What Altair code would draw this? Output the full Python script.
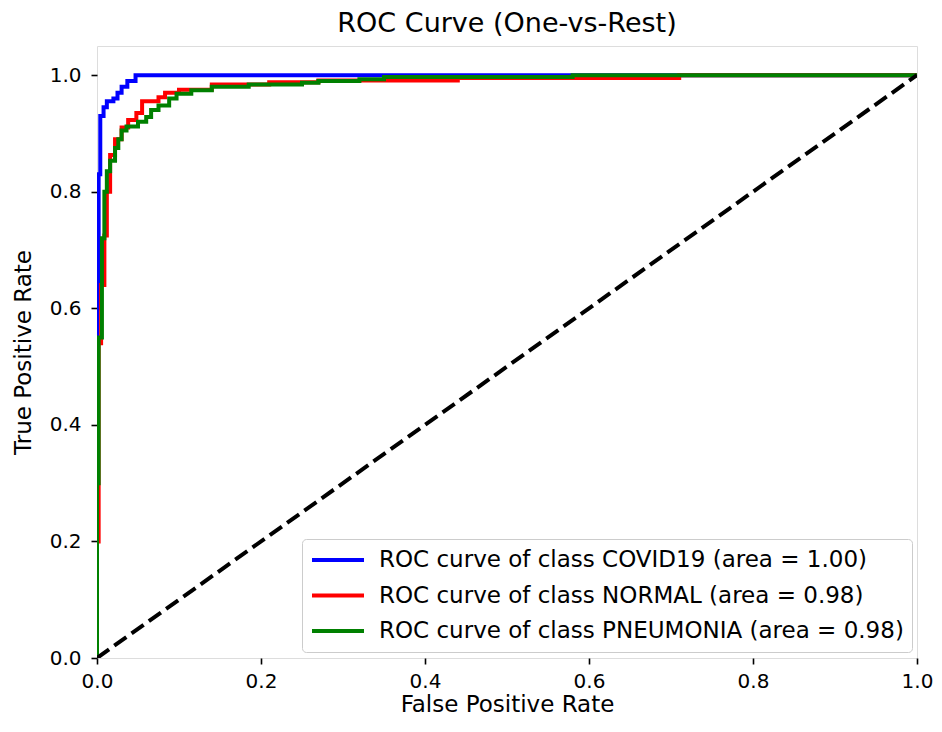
import altair as alt
import pandas as pd

classes = ["COVID19", "NORMAL", "PNEUMONIA"]
areas = ["1.00", "0.98", "0.98"]
colors = ["#0000ff", "#ff0000", "#008000"]

covid_fpr = [0, 0, 0.002, 0.002, 0.004, 0.004, 0.008, 0.008, 0.012, 0.012, 0.02, 0.02,
             0.025, 0.025, 0.03, 0.03, 0.037, 0.037, 0.047, 0.047, 1.0]
covid_tpr = [0, 0.6, 0.6, 0.83, 0.83, 0.93, 0.93, 0.945, 0.945, 0.955, 0.955, 0.96,
             0.96, 0.97, 0.97, 0.98, 0.98, 0.99, 0.99, 1.0, 1.0]

normal_fpr = [0, 0, 0.002, 0.002, 0.005, 0.005, 0.009, 0.009, 0.012, 0.012, 0.016, 0.016,
              0.022, 0.022, 0.03, 0.03, 0.038, 0.038, 0.048, 0.048, 0.055, 0.055,
              0.075, 0.075, 0.083, 0.083, 0.1, 0.1, 0.14, 0.14, 0.21, 0.21, 0.27, 0.27,
              0.44, 0.44, 0.71, 0.71, 1.0]
normal_tpr = [0, 0.2, 0.2, 0.54, 0.54, 0.64, 0.64, 0.725, 0.725, 0.8, 0.8, 0.863,
              0.863, 0.89, 0.89, 0.91, 0.91, 0.923, 0.923, 0.935, 0.935, 0.955,
              0.955, 0.962, 0.962, 0.97, 0.97, 0.975, 0.975, 0.984, 0.984, 0.988, 0.988, 0.991,
              0.991, 0.995, 0.995, 1.0, 1.0]

pneu_fpr = [0, 0, 0.002, 0.002, 0.006, 0.006, 0.009, 0.009, 0.012, 0.012, 0.016, 0.016,
            0.022, 0.022, 0.026, 0.026, 0.03, 0.03, 0.036, 0.036, 0.05, 0.05, 0.06, 0.06,
            0.066, 0.066, 0.075, 0.075, 0.088, 0.088, 0.097, 0.097, 0.115, 0.115,
            0.14, 0.14, 0.185, 0.185, 0.25, 0.25, 0.27, 0.27, 0.32, 0.32, 0.35, 0.35,
            0.58, 0.58, 1.0]
pneu_tpr = [0, 0.3, 0.3, 0.55, 0.55, 0.72, 0.72, 0.8, 0.8, 0.835, 0.835, 0.853,
            0.853, 0.875, 0.875, 0.89, 0.89, 0.905, 0.905, 0.912, 0.912, 0.92, 0.92, 0.928,
            0.928, 0.94, 0.94, 0.948, 0.948, 0.96, 0.96, 0.968, 0.968, 0.974,
            0.974, 0.98, 0.98, 0.984, 0.984, 0.987, 0.987, 0.99, 0.99, 0.993, 0.993, 0.997,
            0.997, 1.0, 1.0]

diag_x = [0, 1]
diag_y = [0, 1]

tick_values = [0, 0.2, 0.4, 0.6, 0.8, 1.0]

labels = [f"ROC curve of class {c} (area = {a})" for c, a in zip(classes, areas)]

rows = []
for lab, fx, ty in zip(labels, [covid_fpr, normal_fpr, pneu_fpr], [covid_tpr, normal_tpr, pneu_tpr]):
    for i, (a, b) in enumerate(zip(fx, ty)):
        rows.append({"label": lab, "fpr": a, "tpr": b, "idx": i})
df = pd.DataFrame(rows)
ddf = pd.DataFrame({"x": diag_x, "y": diag_y})

FONT = "DejaVu Sans"
TICK_FS = 20
LAB_FS = 23

xscale = alt.Scale(domain=[0, 1], nice=False, zero=False)
yscale = alt.Scale(domain=[0, 1.05], nice=False, zero=False)

common_axis = dict(
    values=tick_values, format=".1f", grid=False, domain=False, ticks=True,
    tickSize=6, tickWidth=1.6, tickColor="black",
    labelFont=FONT, labelFontSize=TICK_FS, labelColor="black",
    titleFont=FONT, titleFontSize=LAB_FS, titleFontWeight="normal", titleColor="black",
    labelFlush=False,
)
xaxis = alt.Axis(title="False Positive Rate", labelPadding=7, titlePadding=2, **common_axis)
yaxis = alt.Axis(title="True Positive Rate", labelPadding=10, titlePadding=14, **common_axis)

legend = alt.Legend(title=None, orient="none", legendX=205, legendY=493,
                    symbolType="stroke", symbolSize=2704, symbolStrokeWidth=4,
                    labelFont=FONT, labelFontSize=LAB_FS, labelColor="black", labelLimit=900,
                    labelOffset=13, padding=8, rowPadding=9.5, clipHeight=26,
                    fillColor="white", strokeColor="#cccccc", cornerRadius=4)

curves = alt.Chart(df).mark_line(strokeWidth=4, clip=True, interpolate="linear").encode(
    x=alt.X("fpr:Q", scale=xscale, axis=xaxis),
    y=alt.Y("tpr:Q", scale=yscale, axis=yaxis),
    color=alt.Color("label:N", scale=alt.Scale(domain=labels, range=colors), legend=legend),
    order=alt.Order("idx:Q"),
)

diag = alt.Chart(ddf).mark_line(strokeWidth=4, color="black", strokeDash=[14.8, 6.4], clip=True).encode(
    x=alt.X("x:Q", scale=xscale),
    y=alt.Y("y:Q", scale=yscale),
)

chart = alt.layer(curves, diag).properties(
    width=820, height=612,
    title=alt.TitleParams("ROC Curve (One-vs-Rest)", font=FONT, fontSize=27, fontWeight="normal",
                          color="black", offset=8, anchor="middle"),
    padding={"left": 89, "top": 38, "right": 17, "bottom": 58},
    autosize="none",
).configure_view(stroke="black", strokeWidth=1.6).configure(background="white")

chart.save("out.html", embed_options={"renderer": "svg", "actions": False})
